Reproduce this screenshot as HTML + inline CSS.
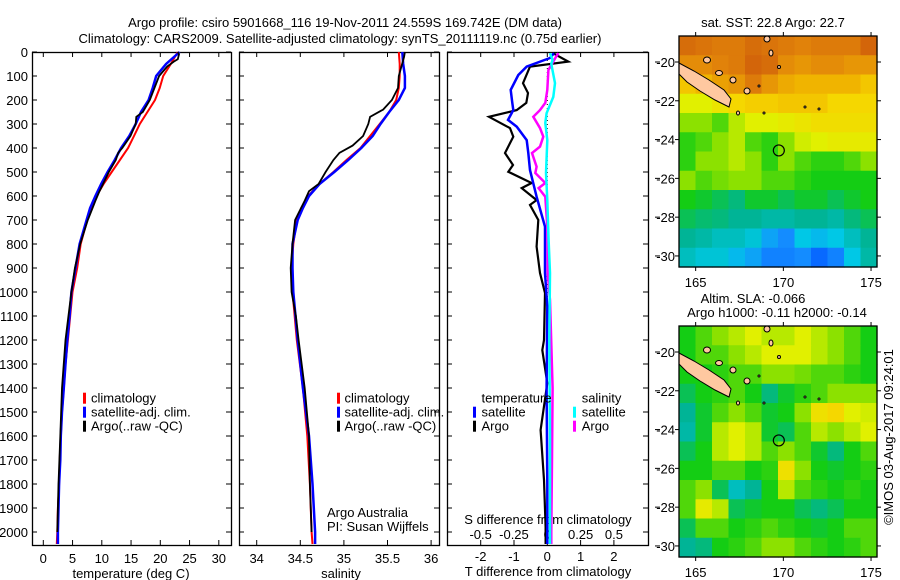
<!DOCTYPE html>
<html><head><meta charset="utf-8"><title>Argo profile</title>
<style>
html,body{margin:0;padding:0;background:#fff;}
svg{display:block;font-family:"Liberation Sans",Arial,sans-serif;}
text{font-size:13px;fill:#000;}
</style></head>
<body>
<svg id="chart" width="900" height="580" viewBox="0 0 900 580" xmlns="http://www.w3.org/2000/svg">
<text x="345" y="27" text-anchor="middle">Argo profile: csiro 5901668_116 19-Nov-2011 24.559S 169.742E (DM data)</text>
<text x="340" y="43" text-anchor="middle">Climatology: CARS2009. Satellite-adjusted climatology: synTS_20111119.nc (0.75d earlier)</text>
<g id="g"></g>
</svg>
<script>
// ---------- DATA ----------
const tDepth = [0,50,100,150,200,250,300,350,400,450,500,550,600,650,700,800,900,1000,1100,1200,1300,1400,1500,1600,1700,1800,1900,2000,2050];
const tClim  = [23.0,21.8,20.5,19.9,19.1,17.8,16.5,15.5,14.5,13.1,11.7,10.3,9.1,8.2,7.5,6.4,5.8,5.0,4.6,4.2,3.8,3.5,3.2,3.0,2.8,2.7,2.5,2.4,2.3];
const tSat   = [23.3,21.0,19.3,18.7,18.0,16.7,15.8,14.7,13.3,12.2,11.0,9.9,8.9,8.0,7.4,6.2,5.5,4.8,4.5,4.1,3.8,3.5,3.2,3.0,2.9,2.7,2.6,2.5,2.5];
const aDepth = [0,10,30,40,60,100,200,250,270,300,350,400,420,450,500,520,580,620,700,800,900,1000,1200,1400,1600,1800,2000];
const tArgo  = [23.0,23.2,23.0,22.3,21.2,19.8,18.2,17.0,15.9,15.8,14.9,13.5,12.8,12.4,11.2,10.8,9.6,8.9,7.6,6.3,5.4,4.8,3.8,3.2,2.9,2.6,2.4];
const sDepth = [0,50,100,150,200,250,300,350,400,450,500,550,600,650,700,800,900,1000,1200,1400,1600,1800,2000,2050];
const sClim  = [35.63,35.64,35.64,35.63,35.60,35.52,35.41,35.30,35.19,35.03,34.88,34.72,34.59,34.51,34.46,34.42,34.40,34.41,34.46,34.53,34.58,34.61,34.63,34.64];
const sSat   = [35.67,35.68,35.70,35.70,35.63,35.52,35.42,35.33,35.20,35.05,34.89,34.72,34.60,34.53,34.47,34.41,34.41,34.42,34.47,34.53,34.60,34.64,34.67,34.67];
const saDepth= [0,20,100,150,200,240,270,300,350,390,420,450,500,550,580,620,700,800,850,900,1000,1100,1200,1400,1600,1800,2000];
const sArgo  = [35.70,35.69,35.63,35.62,35.55,35.45,35.30,35.28,35.22,35.10,34.95,34.88,34.79,34.71,34.60,34.55,34.44,34.41,34.40,34.39,34.40,34.45,34.48,34.55,34.60,34.61,34.63];
const dtaDepth=[5,40,61,130,171,212,242,270,317,353,421,471,499,546,567,617,637,700,811,921,1004,1200,1242,1380,1575,1783,1979,2050];
const dtArgo = [0.17,0.63,-0.52,-0.73,-0.58,-0.63,-0.92,-1.75,-1.12,-1.02,-1.27,-1.03,-1.17,-0.47,-0.77,-0.32,-0.52,-0.27,-0.32,-0.22,-0.07,-0.10,-0.15,0.0,-0.20,-0.10,-0.05,-0.05];
const dtsDepth=[5,25,61,96,158,212,242,283,311,367,421,492,603,728,921,1061,1400,1800,2050];
const dtSat  = [0.2,0.08,-0.62,-0.87,-1.10,-1.05,-1.02,-1.18,-0.92,-0.62,-0.57,-0.52,-0.32,-0.07,-0.07,0.0,-0.02,0.0,0.0];
const dsaDepth=[5,25,75,158,212,242,270,317,353,394,421,478,504,546,567,603,728,921,1033,1400,1700,2000,2050];
const dsArgo = [0.083,0.06,0.008,0.0,-0.015,-0.055,-0.105,-0.055,-0.03,-0.055,-0.115,-0.08,-0.09,-0.015,-0.065,-0.015,0.0,0.003,0.02,0.04,0.035,0.03,0.03];
const dssDepth=[5,33,50,130,187,255,296,367,504,617,783,921,1200,1600,2000,2050];
const dsSat  = [0.02,0.04,0.03,0.058,0.045,-0.005,-0.015,0.0,-0.01,0.0,0.01,0.02,0.015,0.02,0.02,0.02];
const depthTicks = [0,100,200,300,400,500,600,700,800,900,1000,1100,1200,1300,1400,1500,1600,1700,1800,1900,2000];
const tTicks = [0,5,10,15,20,25,30];
const sTicks = [34,34.5,35,35.5,36];
const sTickLabels = ["34","34.5","35","35.5","36"];
const dtTicks = [-2,-1,0,1,2];
const dsTicks = [-0.5,-0.25,0,0.25,0.5];
const dsTickLabels = ["-0.5","-0.25","0","0.25","0.5"];
const sstGrid = [
[0.92,0.9,0.88,0.88,0.92,0.9,0.88,0.86,0.88,0.88,0.88,0.94],
[0.84,0.84,0.86,0.88,0.94,0.92,0.84,0.82,0.84,0.84,0.82,0.82],
[0.72,0.76,0.8,0.82,0.88,0.82,0.78,0.76,0.76,0.76,0.76,0.72],
[0.6,0.6,0.64,0.68,0.7,0.7,0.72,0.72,0.72,0.68,0.68,0.68],
[0.5,0.5,0.45,0.55,0.6,0.6,0.62,0.64,0.66,0.66,0.66,0.66],
[0.42,0.45,0.5,0.55,0.45,0.42,0.5,0.58,0.6,0.62,0.62,0.62],
[0.42,0.5,0.5,0.55,0.5,0.42,0.5,0.45,0.42,0.42,0.45,0.5],
[0.5,0.45,0.48,0.5,0.5,0.45,0.45,0.42,0.4,0.4,0.4,0.4],
[0.4,0.38,0.35,0.32,0.38,0.38,0.35,0.38,0.38,0.35,0.38,0.4],
[0.35,0.33,0.32,0.3,0.3,0.28,0.28,0.3,0.3,0.28,0.32,0.35],
[0.3,0.28,0.25,0.25,0.22,0.15,0.12,0.2,0.18,0.2,0.25,0.3],
[0.25,0.22,0.22,0.18,0.15,0.1,0.1,0.12,0.05,0.1,0.2,0.28]];
const slaGrid = [
[0.4,0.45,0.5,0.55,0.6,0.55,0.55,0.6,0.55,0.5,0.45,0.4],
[0.4,0.45,0.45,0.5,0.55,0.6,0.6,0.6,0.55,0.5,0.45,0.4],
[0.4,0.4,0.42,0.45,0.45,0.5,0.5,0.48,0.45,0.45,0.42,0.4],
[0.35,0.4,0.42,0.45,0.4,0.32,0.38,0.42,0.45,0.5,0.5,0.5],
[0.3,0.38,0.45,0.5,0.45,0.38,0.4,0.5,0.65,0.68,0.6,0.58],
[0.28,0.38,0.55,0.6,0.55,0.38,0.35,0.45,0.55,0.5,0.55,0.6],
[0.35,0.4,0.55,0.6,0.55,0.45,0.5,0.45,0.38,0.32,0.4,0.45],
[0.4,0.4,0.45,0.45,0.4,0.42,0.65,0.5,0.4,0.38,0.4,0.42],
[0.45,0.5,0.35,0.25,0.3,0.4,0.55,0.45,0.42,0.4,0.42,0.4],
[0.45,0.62,0.55,0.35,0.38,0.4,0.4,0.35,0.32,0.35,0.4,0.4],
[0.35,0.45,0.45,0.4,0.42,0.45,0.42,0.4,0.38,0.4,0.45,0.45],
[0.3,0.32,0.4,0.42,0.45,0.5,0.5,0.45,0.42,0.4,0.42,0.45]];
const latTicks = [-20,-22,-24,-26,-28,-30];
const lonTicks = [165,170,175];
const argoLon = 169.742, argoLat = -24.559;

// ---------- HELPERS ----------
const NS="http://www.w3.org/2000/svg";
const root=document.getElementById('g');
function mk(tag,attrs,parent){const e=document.createElementNS(NS,tag);for(const k in attrs)e.setAttribute(k,attrs[k]);(parent||root).appendChild(e);return e;}
function txt(x,y,s,anchor,parent){const t=mk('text',{x:x,y:y,'text-anchor':anchor||'start'},parent);t.textContent=s;return t;}
const Y0=52, PXD=0.24;
const yD=d=>Y0+d*PXD;
const xT=v=>43.3+v*5.85;
const xS=v=>256.7+(v-34)*87.2;
const xDT=v=>547.3+v*33.3;
const xDS=v=>547.3+v*133.3;
function line(xs,ds,fx,color,w,name){
  const pts=xs.map((v,i)=>fx(v).toFixed(1)+','+yD(ds[i]).toFixed(1)).join(' ');
  const p=mk('polyline',{points:pts,fill:'none',stroke:color,'stroke-width':w,'stroke-linejoin':'miter'});
  
  
}
const YB=545;
function frame(x0,x1,name){
  const r=mk('rect',{x:x0+0.5,y:Y0+0.5,width:x1-x0,height:YB-Y0,fill:'none',stroke:'#000','stroke-width':1.3});
  
  
  depthTicks.forEach(d=>{
    mk('line',{x1:x0,x2:x0+5,y1:yD(d),y2:yD(d),stroke:'#000'});
    mk('line',{x1:x1-5,x2:x1,y1:yD(d),y2:yD(d),stroke:'#000'});
  });
}
// ---------- PANEL 1 ----------
depthTicks.forEach(d=>{
  const t=txt(28,yD(d)+5,String(d),'end');
  
  
});
frame(32,231,'temperature-panel');
tTicks.forEach(v=>{
  mk('line',{x1:xT(v),x2:xT(v),y1:YB,y2:YB-5,stroke:'#000'});
  mk('line',{x1:xT(v),x2:xT(v),y1:Y0,y2:Y0+5,stroke:'#000'});
  const t=txt(xT(v),563,String(v),'middle');
  
  
});
{const t=txt(131,578,'temperature (deg C)','middle');}
line(tClim,tDepth,xT,'#ff0000',2,'temperature-climatology-line');
line(tSat,tDepth,xT,'#0000ff',2.5,'temperature-satellite-line');
line(tArgo,aDepth,xT,'#000000',1.8,'temperature-argo-line');
// ---------- PANEL 2 ----------
frame(239,439,'salinity-panel');
sTicks.forEach((v,i)=>{
  mk('line',{x1:xS(v),x2:xS(v),y1:YB,y2:YB-5,stroke:'#000'});
  mk('line',{x1:xS(v),x2:xS(v),y1:Y0,y2:Y0+5,stroke:'#000'});
  const t=txt(xS(v),563,sTickLabels[i],'middle');
  
  
});
{const t=txt(341,578,'salinity','middle');}
line(sClim,sDepth,xS,'#ff0000',2,'salinity-climatology-line');
line(sSat,sDepth,xS,'#0000ff',2.5,'salinity-satellite-line');
line(sArgo,saDepth,xS,'#000000',1.8,'salinity-argo-line');
// legends
function legend(bx,tx,items,name){
  const g=mk('g',{});
  
  
  items.forEach((it,i)=>{
    const cy=397.7+i*14;
    if(it[0]) mk('rect',{x:bx,y:cy-5,width:3,height:11,fill:it[0]},g);
    txt(tx,cy+5,it[1],'start',g);
  });
}
legend(83,91,[['#ff0000','climatology'],['#0000ff','satellite-adj. clim.'],['#000','Argo(..raw -QC)']],'temperature-legend');
legend(337,344.5,[['#ff0000','climatology'],['#0000ff','satellite-adj. clim.'],['#000','Argo(..raw -QC)']],'salinity-legend');
{const t=txt(327,517,'Argo Australia');
 const u=txt(327,531,'PI: Susan Wijffels');}
// ---------- PANEL 3 ----------
frame(447,648,'difference-panel');
mk('line',{x1:547.3,x2:547.3,y1:60,y2:300,stroke:'#000','stroke-dasharray':'1,3'});
dtTicks.forEach(v=>{
  mk('line',{x1:xDT(v),x2:xDT(v),y1:YB,y2:YB-5,stroke:'#000'});
  mk('line',{x1:xDT(v),x2:xDT(v),y1:Y0,y2:Y0+5,stroke:'#000'});
  const t=txt(xDT(v),561,String(v),'middle');
  
  
});
dsTicks.forEach((v,i)=>{
  const t=txt(xDS(v),539,dsTickLabels[i],'middle');
  
  
});
{const t=txt(548,524,'S difference from climatology','middle');
 const u=txt(548,576,'T difference from climatology','middle');}
line(dtArgo,dtaDepth,xDT,'#000000',2.2,'t-diff-argo-line');
line(dtSat,dtsDepth,xDT,'#0000ff',2.5,'t-diff-satellite-line');
line(dsArgo,dsaDepth,xDS,'#ff00ff',2.5,'s-diff-argo-line');
line(dsSat,dssDepth,xDS,'#00ffff',2.5,'s-diff-satellite-line');
legend(473,481.5,[[null,'temperature'],['#0000ff','satellite'],['#000','Argo']],'t-diff-legend');
legend(573,581.7,[[null,'salinity'],['#00ffff','satellite'],['#ff00ff','Argo']],'s-diff-legend');
// ---------- MAPS ----------
const cmap=[[0,[0,80,255]],[0.12,[20,140,255]],[0.2,[0,200,230]],[0.3,[0,180,150]],[0.4,[20,205,20]],[0.5,[140,225,0]],[0.6,[225,240,0]],[0.68,[245,215,0]],[0.76,[240,180,0]],[0.86,[225,130,10]],[1,[200,80,10]]];
function col(v){
  for(let i=1;i<cmap.length;i++){if(v<=cmap[i][0]){const a=cmap[i-1],b=cmap[i];const f=(v-a[0])/(b[0]-a[0]);const c=a[1].map((x,k)=>Math.round(x+(b[1][k]-x)*f));return 'rgb('+c.join(',')+')';}}
  return 'rgb(200,80,10)';
}
const smallIslands=[[28,24,3.5,3],[40,37,3.5,2.5],[54,44,3,3],[68,55,3,3],[88,3,3,3],[92,17,2,3],[100,31,1.5,1.5],[59,77,1.5,2],[85,77,1,1],[126,71,1,1],[140,73,1,1],[80,50,1,1]];
function map(y0,grid,name){
  const X0=679,X1=877,Y1=y0+231;
  const lonL=164.05,lonR=175.34,latT=-18.66,latB=-30.57;
  const mx=l=>X0+(l-lonL)/(lonR-lonL)*(X1-X0);
  const my=l=>y0+(latT-l)/(latT-latB)*(Y1-y0);
  const g=mk('g',{});
  
  
  const nr=grid.length,nc=grid[0].length,cw=(X1-X0)/nc,ch=(Y1-y0)/nr;
  grid.forEach((row,r)=>row.forEach((v,c)=>{
    mk('rect',{x:(X0+c*cw).toFixed(2),y:(y0+r*ch).toFixed(2),width:(cw+0.6).toFixed(2),height:(ch+0.6).toFixed(2),fill:col(v)},g);
  }));
  const isl=mk('polygon',{points:[[0,27],[15,35],[30,44],[45,54],[52,63],[50,71],[36,64],[21,55],[8,46],[0,38]].map(p=>(X0+p[0])+','+(y0+p[1])).join(' '),fill:'#ffc8a0',stroke:'#000','stroke-width':1},g);
  
  
  smallIslands.forEach(s=>{
    mk('ellipse',{cx:X0+s[0],cy:y0+s[1],rx:s[2],ry:s[3],fill:'#ffc8a0',stroke:'#000','stroke-width':1},g);
  });
  const c=mk('circle',{cx:mx(argoLon),cy:my(argoLat),r:5.5,fill:'none',stroke:'#000','stroke-width':1.2},g);
  
  
  mk('rect',{x:X0,y:y0,width:X1-X0,height:Y1-y0,fill:'none',stroke:'#000','stroke-width':1.3},g);
  latTicks.forEach(l=>{
    mk('line',{x1:X0-4,x2:X0,y1:my(l),y2:my(l),stroke:'#000'},g);
    mk('line',{x1:X1,x2:X1+4,y1:my(l),y2:my(l),stroke:'#000'},g);
    mk('line',{x1:655,x2:660,y1:my(l),y2:my(l),stroke:'#000'},g);
    txt(675,my(l)+5,String(l),'end',g);
  });
  lonTicks.forEach(l=>{
    mk('line',{x1:mx(l),x2:mx(l),y1:y0-4,y2:y0,stroke:'#000'},g);
    mk('line',{x1:mx(l),x2:mx(l),y1:Y1,y2:Y1+4,stroke:'#000'},g);
    txt(mx(l),Y1+20,String(l),'middle',g);
  });
}
map(36,sstGrid,'sst-map');
map(326,slaGrid,'sla-map');
{const t=txt(773,27,'sat. SST: 22.8 Argo: 22.7','middle');
 const u=txt(753,303,'Altim. SLA: -0.066','middle');
 const w=txt(777,317,'Argo h1000: -0.11 h2000: -0.14','middle');
 const v=txt(0,0,'©IMOS 03-Aug-2017 09:24:01','middle');v.setAttribute('transform','translate(893,437) rotate(-90)');}
</script>
</body></html>
